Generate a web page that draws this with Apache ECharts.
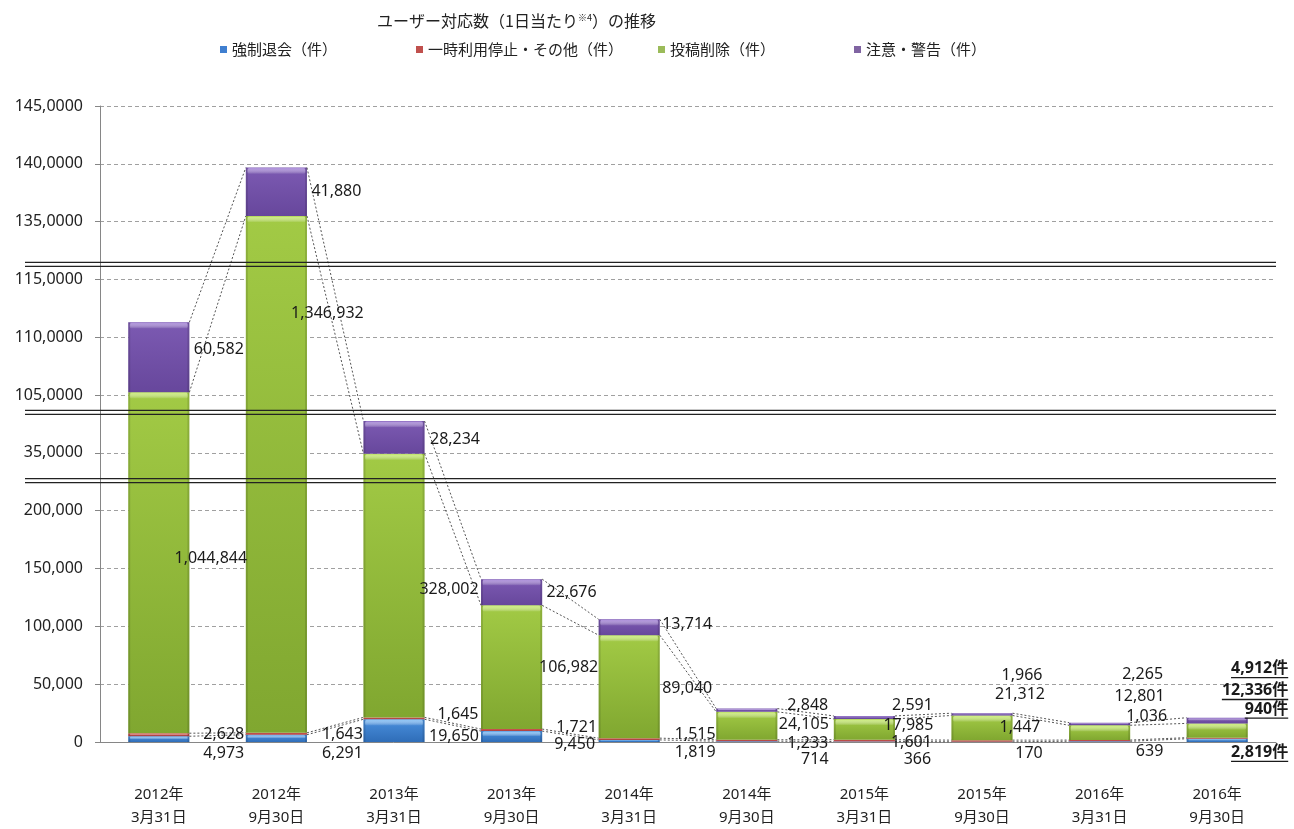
<!DOCTYPE html>
<html><head><meta charset="utf-8">
<script src="https://cdn.jsdelivr.net/npm/echarts@6/dist/echarts.min.js"></script>
<style>html,body{margin:0;padding:0;background:#fff}#c{width:1294px;height:829px}</style>
</head><body><div id="c"></div>
<script>
// ---------- data ----------
const categories = ['2012年\n3月31日','2012年\n9月30日','2013年\n3月31日','2013年\n9月30日','2014年\n3月31日',
                    '2014年\n9月30日','2015年\n3月31日','2015年\n9月30日','2016年\n3月31日','2016年\n9月30日'];
const seriesNames = ['強制退会（件）','一時利用停止・その他（件）','投稿削除（件）','注意・警告（件）'];
const forcedWithdrawal = [4973, 6291, 19650, 9450, 1819, 714, 366, 170, 639, 2819];
const suspensionOther  = [2628, 1643, 1645, 1721, 1515, 1233, 1601, 1447, 1036, 940];
const postDeletion     = [1044844, 1346932, 328002, 106982, 89040, 24105, 17985, 21312, 12801, 12336];
const cautionWarning   = [60582, 41880, 28234, 22676, 13714, 2848, 2591, 1966, 2265, 4912];
const yTickLabels = ['0','50,000','100,000','150,000','200,000','35,0000','105,0000','110,0000','115,0000','135,0000','140,0000','145,0000'];
// visible value ranges of the broken axis (gaps between them are cut out)
const axisSegments = [[0, 226000], [326000, 385000], [1035000, 1163000], [1313000, 1450000]];

// ---------- layout (label offsets in px from bar centre / segment middle) ----------
const labelOffsets = [
  [[65,14],[66,15],[60,6],[63,8],[66,11],[68,18],[53,18],[47,12],[50,10],[71,12]],
  [[65,0],[66,1],[64,-4],[65,-3],[66,-5],[61,3],[47,2],[38,-14],[47,-24],[71,-29]],
  [[52,-4],[51,-161],[55,4],[57,0],[58,2],[57,-1],[44,-4],[38,-33],[40,-36],[71,-40]],
  [[60,-8],[60,0],[61,2],[60,0],[58,-3],[61,-5],[48,-12],[40,-39],[43,-50],[71,-52]]
];
const BAR_RATIO = 0.52;
const FONT = '"Noto Sans", "Noto Sans CJK JP", sans-serif';
const CJK = '"Noto Sans CJK JP", sans-serif';

// ---------- broken-axis scale ----------
function toVisual(v) {
  let off = 0;
  for (const [a, b] of axisSegments) {
    if (v <= b) return off + Math.max(0, v - a);
    off += b - a;
  }
  return off;
}
const visMax = toVisual(axisSegments[axisSegments.length - 1][1]);
const breakVis = [];
{ let off = 0; for (let k = 0; k < axisSegments.length - 1; k++) { off += axisSegments[k][1] - axisSegments[k][0]; breakVis.push(off); } }

const seriesData = [forcedWithdrawal, suspensionOther, postDeletion, cautionWarning];
const colors = [
  {top:'#4A90DD', bot:'#2F6DB8', light:'#8CC4F5', legend:'#3F7FD0'},
  {top:'#CC5450', bot:'#A84040', light:'#E89090', legend:'#C0504D'},
  {top:'#A2CA45', bot:'#80A730', light:'#CDEE7E', legend:'#9BBB59'},
  {top:'#7C5AB2', bot:'#67479C', light:'#AE90DC', legend:'#8064A2'}
];
// cumulative visual bottoms/tops
const visBot = [], visTop = [];
for (let s = 0; s < 4; s++) { visBot.push([]); visTop.push([]); }
for (let i = 0; i < categories.length; i++) {
  let cum = 0;
  for (let s = 0; s < 4; s++) {
    visBot[s].push(toVisual(cum));
    cum += seriesData[s][i];
    visTop[s].push(toVisual(cum));
  }
}

const barSeries = seriesData.map((arr, s) => ({
  name: seriesNames[s], type: 'bar', stack: 'total', barWidth: (BAR_RATIO*100)+'%', z: 2,
  data: arr.map((v, i) => visTop[s][i] - visBot[s][i]),
  itemStyle: { color: new echarts.graphic.LinearGradient(0,0,0,1,[{offset:0,color:colors[s].top},{offset:1,color:colors[s].bot}]) },
  emphasis: { disabled: true }
}));

// bevel highlights
const segItems = [];
for (let s = 0; s < 4; s++) for (let i = 0; i < categories.length; i++) segItems.push({s, i});
const bevelSeries = {
  type: 'custom', z: 3, silent: true,
  data: segItems.map(o => [o.i, visTop[o.s][o.i]]),
  renderItem(params, api) {
    const o = segItems[params.dataIndex];
    const w = api.size([1, 0])[0] * BAR_RATIO;
    const cx = api.coord([o.i, 0])[0];
    const yT = api.coord([o.i, visTop[o.s][o.i]])[1];
    const yB = api.coord([o.i, visBot[o.s][o.i]])[1];
    const h = yB - yT;
    if (h < 2) return null;
    const bh = Math.min(6, h * 0.45);
    return { type: 'group', children: [
      { type: 'rect', shape: {x: cx - w/2 + 1.5, y: yT + 0.5, width: w - 3, height: bh, r: 2},
        style: { fill: new echarts.graphic.LinearGradient(0,0,0,1,[{offset:0,color:colors[o.s].light},{offset:1,color:'rgba(255,255,255,0)'}]) } },
      { type: 'rect', shape: {x: cx - w/2, y: yT, width: 2, height: h}, style: {fill:'rgba(0,0,0,0.12)'} },
      { type: 'rect', shape: {x: cx + w/2 - 2, y: yT, width: 2, height: h}, style: {fill:'rgba(0,0,0,0.12)'} }
    ]};
  }
};

// series lines between consecutive bars
const lineItems = [];
for (let s = 0; s < 4; s++) for (let i = 0; i < categories.length - 1; i++) lineItems.push({s, i});
const seriesLines = {
  type: 'custom', z: 4, silent: true,
  data: lineItems.map(o => [o.i, visTop[o.s][o.i]]),
  renderItem(params, api) {
    const o = lineItems[params.dataIndex];
    const half = api.size([1, 0])[0] * BAR_RATIO / 2;
    const p1 = api.coord([o.i, visTop[o.s][o.i]]);
    const p2 = api.coord([o.i + 1, visTop[o.s][o.i + 1]]);
    return { type: 'line', shape: {x1: p1[0] + half, y1: p1[1], x2: p2[0] - half, y2: p2[1]},
      style: { stroke: '#555', lineWidth: 1, lineDash: [2, 2] } };
  }
};

// double break lines
const breakLines = {
  type: 'custom', z: 5, silent: true, clip: false,
  data: breakVis.map(v => [0, v]),
  renderItem(params, api) {
    const v = breakVis[params.dataIndex];
    const y = api.coord([0, v])[1];
    const cw = api.size([1, 0])[0];
    const x2 = api.coord([categories.length - 1, v])[0] + cw / 2;
    const x1 = api.coord([0, v])[0] - cw / 2 - 75;
    return { type: 'group', children: [
      { type: 'line', shape: {x1, y1: y - 2, x2, y2: y - 2}, style: {stroke: '#222', lineWidth: 1.3} },
      { type: 'line', shape: {x1, y1: y + 2, x2, y2: y + 2}, style: {stroke: '#222', lineWidth: 1.3} }
    ]};
  }
};

// value labels
const measure = document.createElement('canvas').getContext('2d');
const labelItems = [];
for (let s = 0; s < 4; s++) for (let i = 0; i < categories.length; i++) labelItems.push({s, i});
const labelSeries = {
  type: 'custom', z: 6, silent: true, clip: false,
  data: labelItems.map(o => [o.i, (visTop[o.s][o.i] + visBot[o.s][o.i]) / 2]),
  renderItem(params, api) {
    const o = labelItems[params.dataIndex];
    const last = o.i === categories.length - 1;
    const cx = api.coord([o.i, 0])[0];
    const yT = api.coord([o.i, visTop[o.s][o.i]])[1];
    const yB = api.coord([o.i, visBot[o.s][o.i]])[1];
    const [dx, dy] = labelOffsets[o.s][o.i];
    const x = cx + dx, y = (yT + yB) / 2 + dy;
    const txt = seriesData[o.s][o.i].toLocaleString('en-US') + (last ? '件' : '');
    if (!last) {
      return { type: 'text', x, y, style: { text: txt, fill: '#1a1a1a', fontSize: 16, fontFamily: FONT,
        align: 'center', verticalAlign: 'middle' } };
    }
    measure.font = 'bold 16px ' + FONT;
    const tw = measure.measureText(txt).width;
    return { type: 'group', children: [
      { type: 'text', x, y, style: { text: txt, fill: '#1a1a1a', fontSize: 16, fontWeight: 'bold', fontFamily: FONT,
        align: 'right', verticalAlign: 'middle' } },
      { type: 'line', shape: {x1: x - tw, y1: y + 9, x2: x, y2: y + 9}, style: {stroke: '#1a1a1a', lineWidth: 1.3} }
    ]};
  }
};

const legendLefts = [215, 411, 653, 849];
const legends = seriesNames.map((n, s) => ({
  left: legendLefts[s], top: 37, itemWidth: 7, itemHeight: 7, icon: 'rect', selectedMode: false,
  data: [{ name: n, itemStyle: { color: colors[s].legend } }],
  textStyle: { fontSize: 15, color: '#222', fontFamily: CJK }
}));

const chart = echarts.init(document.getElementById('c'));
chart.setOption({
  animation: false,
  backgroundColor: '#fff',
  title: {
    text: '{a|ユーザー対応数（1日当たり}{s|※4}{a|）の推移}',
    left: 372, top: 8,
    textStyle: { fontWeight: 'normal', rich: {
      a: { fontSize: 16, color: '#222', fontFamily: CJK, fontWeight: 'normal' },
      s: { fontSize: 9, color: '#222', fontFamily: CJK, fontWeight: 'normal', verticalAlign: 'top', padding: [0, 0, 6, 0] }
    } }
  },
  legend: legends,
  grid: { left: 100, right: 18, top: 106, bottom: 84 },
  xAxis: {
    type: 'category', data: categories,
    axisLine: { lineStyle: { color: '#868686' } },
    axisTick: { show: false },
    axisLabel: { fontSize: 15, lineHeight: 23, color: '#222', margin: 41, fontFamily: FONT }
  },
  yAxis: {
    type: 'value', min: 0, max: visMax, interval: 50000,
    axisLine: { show: true, lineStyle: { color: '#868686' } },
    axisTick: { show: true, length: 5, lineStyle: { color: '#868686' } },
    splitLine: { lineStyle: { color: '#a0a0a0', type: [4, 3] } },
    axisLabel: { fontSize: 16, color: '#222', margin: 17, fontFamily: FONT,
      formatter: v => yTickLabels[Math.round(v / 50000)] }
  },
  series: [...barSeries, bevelSeries, seriesLines, breakLines, labelSeries]
});
</script></body></html>
